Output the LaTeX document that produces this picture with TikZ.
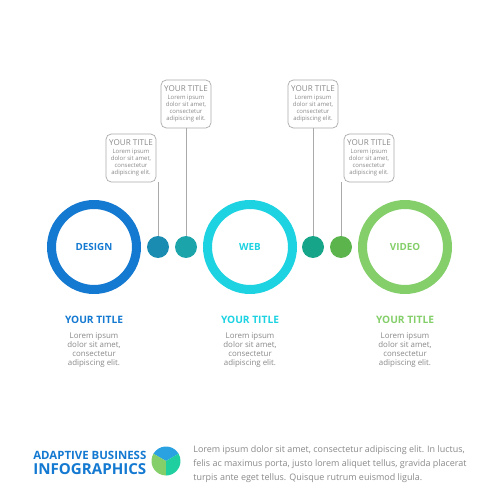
\documentclass[tikz,border=0pt]{standalone}
\usepackage{fontspec}
\setmainfont{Open Sans}
\usepackage{xcolor}
\usetikzlibrary{positioning,calc}

\definecolor{designblue}{HTML}{1479D1}
\definecolor{webcyan}{HTML}{1DD3E2}
\definecolor{videogreen}{HTML}{84CF6A}
\definecolor{dotA}{HTML}{1A8CB2}
\definecolor{dotB}{HTML}{1BA5AA}
\definecolor{dotC}{HTML}{17A58A}
\definecolor{dotD}{HTML}{5BB54C}
\definecolor{piegreen}{HTML}{1FCFA0}
\definecolor{pieblue}{HTML}{2AA2E2}
\definecolor{txtgray}{HTML}{8A8A8A}
\definecolor{linegray}{HTML}{AAAAAA}

\tikzset{
  ring/.style={circle, draw=#1, line width=0.18cm, minimum size=1.7cm, inner sep=0pt,
    text=#1, font=\bfseries\fontsize{5.6}{6}\selectfont},
  dot/.style={circle, fill=#1, minimum size=0.44cm, inner sep=0pt},
  titlebox/.style={draw=linegray, rounded corners=3pt, line width=0.4pt, minimum width=1cm,
    minimum height=0.96cm, inner sep=1pt, align=center, text=txtgray,
    font=\fontsize{3.4}{4.1}\selectfont},
  stem/.style={draw=linegray, line width=0.5pt},
  captitle/.style={font=\bfseries\fontsize{5.8}{6.5}\selectfont, text=#1},
  captext/.style={font=\fontsize{4.5}{5.1}\selectfont, text=txtgray, align=center}
}

\newcommand{\calloutText}{\fontsize{4.6}{6.2}\selectfont YOUR TITLE\\
  Lorem ipsum\\ dolor sit amet,\\ consectetur\\ adipiscing elit.}

\begin{document}
\begin{tikzpicture}[x=0.02cm, y=-0.02cm]
  \useasboundingbox[fill=white] (0,0) rectangle (500,500);

  % main rings
  \node[ring=designblue] (design) at (94,247) {DESIGN};
  \node[ring=webcyan] (web) at (250,247) {WEB};
  \node[ring=videogreen] (video) at (405,247) {VIDEO};

  % small dots
  \foreach \x/\c/\n in {158/dotA/d1, 186/dotB/d2, 313/dotC/d3, 341/dotD/d4}
    \node[dot=\c] (\n) at (\x,247) {};

  % callout boxes
  \node[titlebox] (b1) at (131,158) {\calloutText};
  \node[titlebox] (b2) at (186,104) {\calloutText};
  \node[titlebox] (b3) at (313,104) {\calloutText};
  \node[titlebox] (b4) at (369,158) {\calloutText};

  \draw[stem] (d1.north) -- (d1 |- b1.south);
  \draw[stem] (d2.north) -- (b2.south);
  \draw[stem] (d3.north) -- (b3.south);
  \draw[stem] (d4.north) -- (d4 |- b4.south);

  % captions under rings
  \foreach \n/\c in {design/designblue, web/webcyan, video/videogreen}{
    \node[captitle=\c] (\n-t) at ($(\n)+(0,73)$) {YOUR TITLE};
    \node[captext, below=-2pt of \n-t] (\n-l) {Lorem ipsum\\ dolor sit amet,\\ consectetur\\ adipiscing elit.};
  }

  % footer
  \node[anchor=west, text=designblue, font=\bfseries\fontsize{6.5}{7}\selectfont, inner sep=0pt] (adapt) at (33,455) {ADAPTIVE BUSINESS};
  \node[anchor=west, text=designblue, font=\bfseries\fontsize{8.6}{10}\selectfont, inner sep=0pt] (info) at (33,469) {INFOGRAPHICS};
  \coordinate (pie) at (166,461);
  \fill[pieblue] (pie) -- ++(30:0.29cm) arc[start angle=30, end angle=150, radius=0.29cm] -- cycle;
  \fill[videogreen] (pie) -- ++(150:0.29cm) arc[start angle=150, end angle=270, radius=0.29cm] -- cycle;
  \fill[piegreen] (pie) -- ++(270:0.29cm) arc[start angle=270, end angle=390, radius=0.29cm] -- cycle;
  \node[anchor=west, text=txtgray, align=left, font=\fontsize{5.1}{7.9}\selectfont, inner sep=0pt] (para) at (193,464)
    {Lorem ipsum dolor sit amet, consectetur adipiscing elit. In luctus,\\
     felis ac maximus porta, justo lorem aliquet tellus, gravida placerat\\
     turpis ante eget tellus. Quisque rutrum euismod ligula.};
\end{tikzpicture}
\end{document}
